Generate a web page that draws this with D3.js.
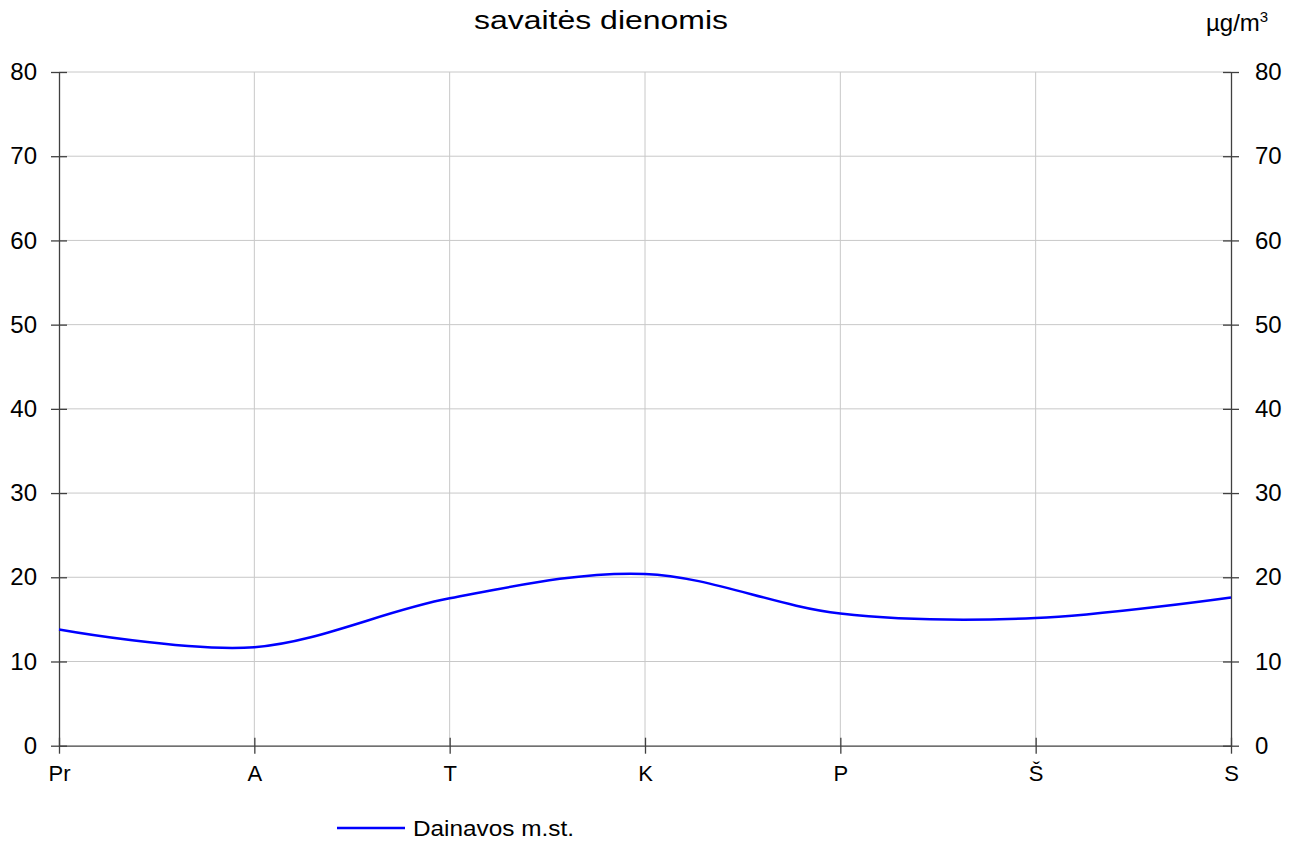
<!DOCTYPE html>
<html>
<head>
<meta charset="utf-8">
<script src="https://cdn.jsdelivr.net/npm/d3@7"></script>
<style>
  html, body { margin: 0; padding: 0; background: #fff; }
  svg { display: block; font-family: "Liberation Sans", Arial, sans-serif; }
</style>
</head>
<body>
<svg id="chart" width="1302" height="842"></svg>
<script>
// Weekly profile of concentration (µg/m³)
const days = ["Pr", "A", "T", "K", "P", "Š", "S"];
const dainavos = [13.8, 11.7, 17.5, 20.4, 15.7, 15.15, 17.6];
const yTicks = [0, 10, 20, 30, 40, 50, 60, 70, 80];
const seriesName = "Dainavos m.st.";
const titleText = "savaitės dienomis";

const svg = d3.select("#chart");
const plotLeft = 59, plotRight = 1231, plotTop = 72, plotBottom = 745.7;

const x = d3.scalePoint().domain(days).range([plotLeft, plotRight]);
const y = d3.scaleLinear().domain([0, 80]).range([plotBottom, plotTop]);

const axisColor = "#404040";
const gridColor = "#c8c8c8";

// grid
const grid = svg.append("g");
grid.selectAll("line.h").data(yTicks.filter(d => d > 0)).join("line")
  .attr("class", "h")
  .attr("x1", plotLeft).attr("x2", plotRight)
  .attr("y1", d => y(d)).attr("y2", d => y(d))
  .attr("stroke", gridColor).attr("stroke-width", 1);
grid.selectAll("line.v").data(days.slice(1, -1)).join("line")
  .attr("class", "v")
  .attr("x1", d => x(d)).attr("x2", d => x(d))
  .attr("y1", plotTop).attr("y2", plotBottom)
  .attr("stroke", gridColor).attr("stroke-width", 1);

// left axis
const yLeft = svg.append("g").attr("transform", `translate(${plotLeft},0)`)
  .call(d3.axisLeft(y).tickValues(yTicks).tickSize(8).tickPadding(14).tickSizeOuter(0));
// right axis
const yRight = svg.append("g").attr("transform", `translate(${plotRight},0)`)
  .call(d3.axisRight(y).tickValues(yTicks).tickSize(8).tickPadding(16).tickSizeOuter(0));
// bottom axis
const xAxis = svg.append("g").attr("transform", `translate(0,${plotBottom})`)
  .call(d3.axisBottom(x).tickSize(8).tickPadding(12).tickSizeOuter(0));

[yLeft, yRight, xAxis].forEach(g => {
  g.select(".domain").attr("stroke", axisColor).attr("stroke-width", 1.3);
  g.selectAll(".tick line").attr("stroke", axisColor).attr("stroke-width", 1.3);
});
// ticks cross the axis lines
yLeft.selectAll(".tick line").attr("x1", 8).attr("x2", -8);
yRight.selectAll(".tick line").attr("x1", -8).attr("x2", 8);
xAxis.selectAll(".tick line").attr("y1", -8).attr("y2", 8);

yLeft.selectAll(".tick text").attr("font-size", 24).attr("fill", "#000")
  .attr("font-family", "Liberation Sans, Arial, sans-serif");
yRight.selectAll(".tick text").attr("font-size", 24).attr("fill", "#000")
  .attr("font-family", "Liberation Sans, Arial, sans-serif");
xAxis.selectAll(".tick text").attr("font-size", 22).attr("fill", "#000")
  .attr("font-family", "Liberation Sans, Arial, sans-serif");

// series line
const line = d3.line()
  .x((d, i) => x(days[i]))
  .y(d => y(d))
  .curve(d3.curveCatmullRom.alpha(0));
svg.append("path").datum(dainavos)
  .attr("d", line)
  .attr("fill", "none")
  .attr("stroke", "#0000ff")
  .attr("stroke-width", 2.5);

// title
svg.append("text")
  .attr("x", 474).attr("y", 29)
  .attr("font-size", 26)
  .attr("textLength", 254)
  .attr("lengthAdjust", "spacingAndGlyphs")
  .attr("fill", "#000")
  .text(titleText);

// unit label
const unit = svg.append("text").attr("x", 1206).attr("y", 31)
  .attr("font-size", 24).attr("fill", "#000");
unit.append("tspan").text("µg/m");
unit.append("tspan").attr("font-size", 15).attr("dy", -9).text("3");

// legend
const legend = svg.append("g");
legend.append("line")
  .attr("x1", 337).attr("x2", 405).attr("y1", 828).attr("y2", 828)
  .attr("stroke", "#0000ff").attr("stroke-width", 2.5);
legend.append("text")
  .attr("x", 413).attr("y", 836)
  .attr("font-size", 22)
  .attr("textLength", 161)
  .attr("lengthAdjust", "spacingAndGlyphs")
  .attr("fill", "#000")
  .text(seriesName);
</script>
</body>
</html>
